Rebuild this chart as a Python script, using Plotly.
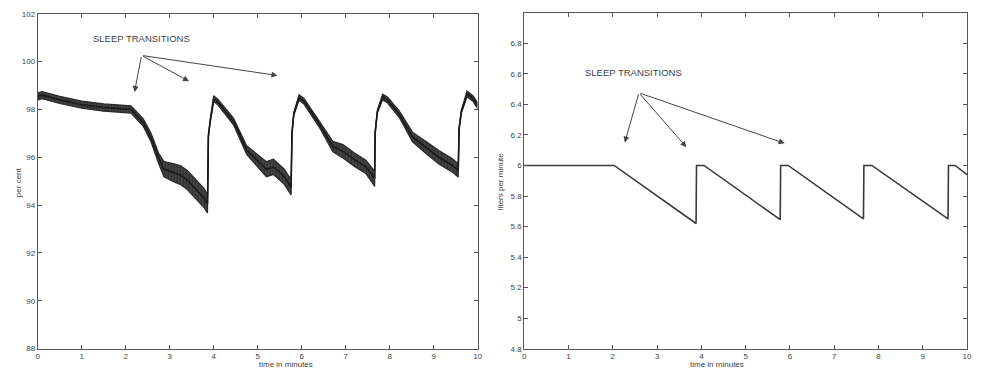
import plotly.graph_objects as go

# ---- Left panel: oxygen saturation (per cent) ----
spo2_t = [0.0, 0.1, 0.5, 1.0, 1.5, 2.0, 2.12, 2.4, 2.57, 2.75, 2.87, 3.1, 3.25, 3.4, 3.6, 3.78, 3.86,
          3.88, 3.92, 4.0, 4.1, 4.45, 4.75, 5.06, 5.2, 5.36, 5.6, 5.76,
          5.78, 5.82, 5.94, 6.05, 6.41, 6.71, 6.94, 7.2, 7.46, 7.61, 7.66,
          7.67, 7.72, 7.84, 7.95, 8.22, 8.52, 8.82, 9.12, 9.42, 9.56,
          9.58, 9.63, 9.76, 9.9, 10.0]
spo2_mid = [98.55, 98.6, 98.4, 98.2, 98.08, 98.02, 98.0, 97.45, 96.85, 95.95, 95.5, 95.35, 95.25, 95.05, 94.65, 94.3, 94.05,
            96.9, 97.5, 98.45, 98.3, 97.5, 96.3, 95.75, 95.5, 95.6, 95.2, 94.75,
            97.0, 97.8, 98.5, 98.35, 97.37, 96.45, 96.25, 95.9, 95.6, 95.25, 95.1,
            97.0, 97.9, 98.52, 98.4, 97.8, 96.85, 96.42, 96.0, 95.67, 95.45,
            97.2, 97.9, 98.65, 98.45, 98.15]
spo2_half = [0.15, 0.15, 0.15, 0.15, 0.15, 0.15, 0.15, 0.16, 0.18, 0.22, 0.32, 0.38, 0.4, 0.4, 0.4, 0.4, 0.38,
             0.06, 0.06, 0.12, 0.12, 0.14, 0.18, 0.28, 0.32, 0.32, 0.32, 0.32,
             0.06, 0.06, 0.12, 0.12, 0.14, 0.22, 0.28, 0.28, 0.28, 0.32, 0.32,
             0.06, 0.06, 0.12, 0.12, 0.14, 0.2, 0.25, 0.28, 0.28, 0.28,
             0.06, 0.06, 0.12, 0.12, 0.12]

# ---- Right panel: ventilation (liters per minute) ----
vent_t = [0.0, 2.03, 3.88, 3.89, 4.06, 5.78, 5.79, 5.96, 7.66, 7.67, 7.85, 9.57, 9.58, 9.73, 10.0]
vent_v = [6.0, 6.0, 5.62, 6.0, 6.0, 5.645, 6.0, 6.0, 5.65, 6.0, 6.0, 5.65, 6.0, 6.0, 5.94]

x_ticks = list(range(0, 11))
left_yticks = [88, 90, 92, 94, 96, 98, 100, 102]
right_yticks = [4.8, 5.0, 5.2, 5.4, 5.6, 5.8, 6.0, 6.2, 6.4, 6.6, 6.8]
right_yticktext = ["4.8", "5", "5.2", "5.4", "5.6", "5.8", "6", "6.2", "6.4", "6.6", "6.8"]

label_text = "SLEEP TRANSITIONS"
left_arrow_tail = (2.36, 100.26)
left_arrow_heads = [(2.2, 98.73), (3.44, 99.18), (5.45, 99.42)]
right_arrow_tail = (2.59, 6.476)
right_arrow_heads = [(2.27, 6.15), (3.66, 6.12), (5.88, 6.145)]

FONT = "Liberation Sans, Arial, sans-serif"
TXT = "#444444"

upper = [m + h for m, h in zip(spo2_mid, spo2_half)]
lower = [m - h for m, h in zip(spo2_mid, spo2_half)]

fig = go.Figure()
fig.add_trace(go.Scatter(x=spo2_t, y=upper, mode="lines", line=dict(color="#2a2a2a", width=1.2),
                         xaxis="x", yaxis="y", showlegend=False, hoverinfo="skip"))
fig.add_trace(go.Scatter(x=spo2_t, y=lower, mode="lines", line=dict(color="#2a2a2a", width=1.2),
                         fill="tonexty", fillcolor="#3c3c3c",
                         fillpattern=dict(shape="|", size=3, solidity=0.5, fgcolor="#111111", bgcolor="#4a4a4a"),
                         xaxis="x", yaxis="y", showlegend=False, hoverinfo="skip"))
fig.add_trace(go.Scatter(x=spo2_t, y=spo2_mid, mode="lines", line=dict(color="#1a1a1a", width=1.6),
                         xaxis="x", yaxis="y", showlegend=False))
fig.add_trace(go.Scatter(x=vent_t, y=vent_v, mode="lines", line=dict(color="#3a3a3a", width=1.6),
                         xaxis="x2", yaxis="y2", showlegend=False))

axis_common = dict(showline=True, linecolor="#555555", linewidth=1, mirror="ticks", ticks="inside",
                   ticklen=4, tickcolor="#555555", showgrid=False, zeroline=False,
                   tickfont=dict(family=FONT, size=8, color=TXT))

fig.update_layout(
    width=983, height=382, margin=dict(l=0, r=0, t=0, b=0),
    paper_bgcolor="white", plot_bgcolor="white",
    xaxis=dict(domain=[36 / 983, 479 / 983], range=[0, 10], tickvals=x_ticks, anchor="y", **axis_common),
    yaxis=dict(domain=[1 - 353 / 382, 1 - 10 / 382], range=[88, 102], tickvals=left_yticks, anchor="x", **axis_common),
    xaxis2=dict(domain=[526 / 983, 972 / 983], range=[0, 10], tickvals=x_ticks, anchor="y2", **axis_common),
    yaxis2=dict(domain=[1 - 353 / 382, 1 - 9 / 382], range=[4.8, 7.0], tickvals=right_yticks,
                ticktext=right_yticktext, anchor="x2", **axis_common),
)

annotations = []
annotations.append(dict(text="time in minutes", x=257 / 983, y=1 - 376 / 382, xref="paper", yref="paper",
                        showarrow=False, font=dict(family=FONT, size=8, color=TXT)))
annotations.append(dict(text="time in minutes", x=749 / 983, y=1 - 376 / 382, xref="paper", yref="paper",
                        showarrow=False, font=dict(family=FONT, size=8, color=TXT)))
annotations.append(dict(text="per cent", x=10 / 983, y=1 - 182 / 382, xref="paper", yref="paper",
                        textangle=-90, showarrow=False, font=dict(family=FONT, size=8, color=TXT)))
annotations.append(dict(text="liters per minute", x=502 / 983, y=1 - 182 / 382, xref="paper", yref="paper",
                        textangle=-90, showarrow=False, font=dict(family=FONT, size=8, color=TXT)))
annotations.append(dict(text=label_text, x=1.2, y=100.95, xref="x", yref="y", xanchor="left",
                        showarrow=False, font=dict(family=FONT, size=9.5, color=TXT)))
annotations.append(dict(text=label_text, x=1.33, y=6.61, xref="x2", yref="y2", xanchor="left",
                        showarrow=False, font=dict(family=FONT, size=9.5, color=TXT)))
for hx, hy in left_arrow_heads:
    annotations.append(dict(x=hx, y=hy, ax=left_arrow_tail[0], ay=left_arrow_tail[1], xref="x", yref="y",
                            axref="x", ayref="y", text="", showarrow=True, arrowhead=2, arrowsize=1.2,
                            arrowwidth=1, arrowcolor="#444444"))
for hx, hy in right_arrow_heads:
    annotations.append(dict(x=hx, y=hy, ax=right_arrow_tail[0], ay=right_arrow_tail[1], xref="x2", yref="y2",
                            axref="x2", ayref="y2", text="", showarrow=True, arrowhead=2, arrowsize=1.2,
                            arrowwidth=1, arrowcolor="#444444"))
fig.update_layout(annotations=annotations)

fig.write_html("out.html")
